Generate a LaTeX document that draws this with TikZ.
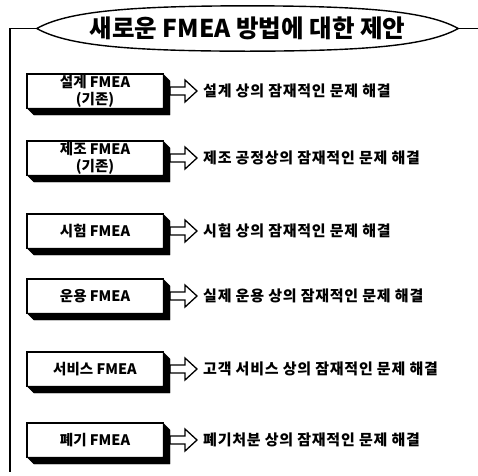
\documentclass[tikz,border=0pt]{standalone}
\usepackage{fontspec}
\setmainfont{Noto Sans CJK KR}
\tikzset{
  facetext/.style={draw=none, minimum width=136pt, minimum height=34pt, inner sep=0pt, align=center, font=\fontsize{14.5}{17}\selectfont\bfseries},
  faceline/.style={draw=black, line width=1.4pt},
  shadowfill/.style={draw=black, fill=black, line width=0.4pt},
  blockarrow/.style={draw=black, line width=1.3pt},
  result/.style={anchor=west, inner sep=0pt, font=\fontsize{15}{18}\selectfont\bfseries\addfontfeature{LetterSpace=5}},
  titlenode/.style={draw=none, minimum width=421pt, minimum height=45pt, inner sep=0pt, font=\fontsize{24.5}{28}\selectfont\bfseries},
  lensline/.style={line width=1.4pt},
  frameline/.style={line width=1.8pt}
}
\begin{document}
\begin{tikzpicture}[x=1pt,y=-1pt]
\fill[white] (0,0) rectangle (478,475);
\useasboundingbox (0,0) rectangle (478,475);

% title
\node[titlenode] (title) at (247.5,28.5) {새로운 FMEA 방법에 대한 제안};
\draw[lensline] (title.west) .. controls (67,11.5) and (127.5,6) .. (title.north)
  .. controls (367.5,6) and (428,11.5) .. (title.east)
  .. controls (428,45.5) and (367.5,51) .. (title.south)
  .. controls (127.5,51) and (67,45.5) .. (title.west);

\coordinate (lt) at (10,28.5);
\coordinate (lb) at (10,472);
\coordinate (rt) at (478,28.5);
\draw[frameline] (title.west) -- (lt) -- (lb);
\draw[frameline] (title.east) -- (rt);

% box texts
\node[facetext] (b1) at (95,91) {설계 FMEA\\(기존)};
\node[facetext] (b2) at (95,158) {제조 FMEA\\(기존)};
\node[facetext] (b3) at (95,231) {시험 FMEA};
\node[facetext] (b4) at (95,296) {운용 FMEA};
\node[facetext] (b5) at (95,369) {서비스 FMEA};
\node[facetext] (b6) at (95,440) {폐기 FMEA};

% results
\node[result] (r1) at (203,91) {설계 상의 잠재적인 문제 해결};
\node[result] (r2) at (203,158) {제조 공정상의 잠재적인 문제 해결};
\node[result] (r3) at (203,231) {시험 상의 잠재적인 문제 해결};
\node[result] (r4) at (203,296) {실제 운용 상의 잠재적인 문제 해결};
\node[result] (r5) at (203,369) {고객 서비스 상의 잠재적인 문제 해결};
\node[result] (r6) at (203,440) {폐기처분 상의 잠재적인 문제 해결};

% block arrows from box shadow to result
\draw[blockarrow] (170,87) -- (185,87) -- (185,80) -- (197,91) -- (185,102) -- (185,95) -- (170,95) -- cycle;
\draw[blockarrow] (170,154) -- (185,154) -- (185,147) -- (197,158) -- (185,169) -- (185,162) -- (170,162) -- cycle;
\draw[blockarrow] (170,227) -- (185,227) -- (185,220) -- (197,231) -- (185,242) -- (185,235) -- (170,235) -- cycle;
\draw[blockarrow] (170,292) -- (185,292) -- (185,285) -- (197,296) -- (185,307) -- (185,300) -- (170,300) -- cycle;
\draw[blockarrow] (170,365) -- (185,365) -- (185,358) -- (197,369) -- (185,380) -- (185,373) -- (170,373) -- cycle;
\draw[blockarrow] (170,436) -- (185,436) -- (185,429) -- (197,440) -- (185,451) -- (185,444) -- (170,444) -- cycle;

% shadows and faces, drawn last
\filldraw[shadowfill] (163,74) -- (170,81) -- (170,115) -- (34,115) -- (27,108) -- (163,108) -- cycle;
\filldraw[shadowfill] (163,141) -- (170,148) -- (170,182) -- (34,182) -- (27,175) -- (163,175) -- cycle;
\filldraw[shadowfill] (163,214) -- (170,221) -- (170,255) -- (34,255) -- (27,248) -- (163,248) -- cycle;
\filldraw[shadowfill] (163,279) -- (170,286) -- (170,320) -- (34,320) -- (27,313) -- (163,313) -- cycle;
\filldraw[shadowfill] (163,352) -- (170,359) -- (170,393) -- (34,393) -- (27,386) -- (163,386) -- cycle;
\filldraw[shadowfill] (163,423) -- (170,430) -- (170,464) -- (34,464) -- (27,457) -- (163,457) -- cycle;
\draw[faceline] (b1.north west) rectangle (b1.south east);
\draw[faceline] (b2.north west) rectangle (b2.south east);
\draw[faceline] (b3.north west) rectangle (b3.south east);
\draw[faceline] (b4.north west) rectangle (b4.south east);
\draw[faceline] (b5.north west) rectangle (b5.south east);
\draw[faceline] (b6.north west) rectangle (b6.south east);
\end{tikzpicture}
\end{document}
